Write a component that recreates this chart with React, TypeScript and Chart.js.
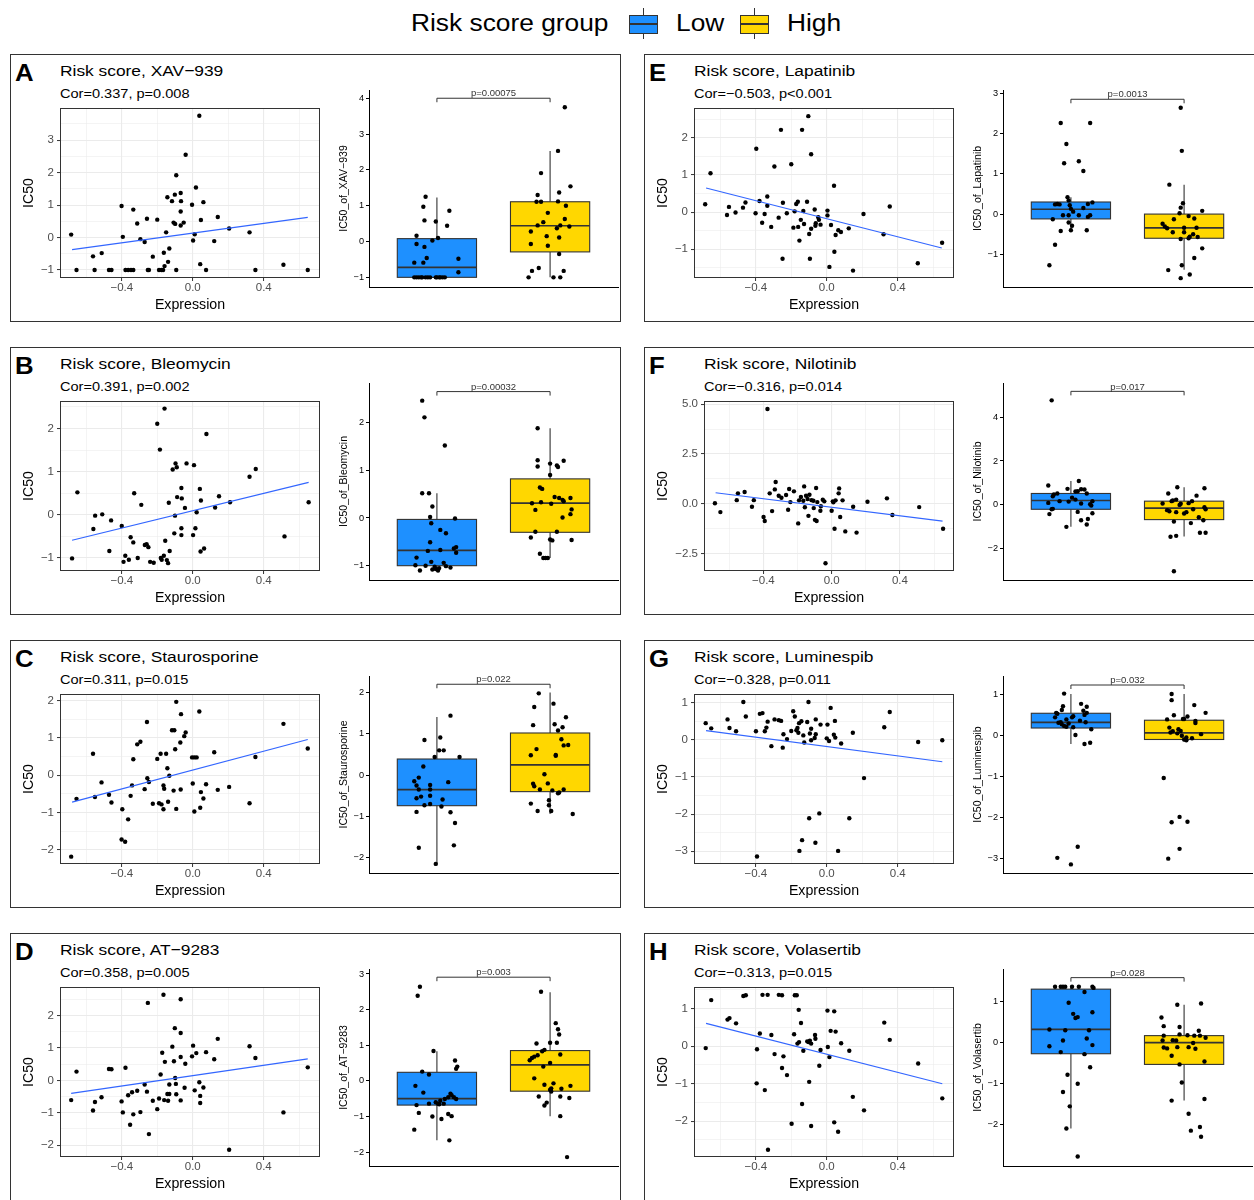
import React, { useEffect, useRef } from "react";
import { Chart, registerables } from "chart.js";

Chart.register(...registerables);

// ---------------- data ----------------
const groups = ["Low", "High"];
const groupColors = ["#1E90FF", "#FFD700"];
const expressionRange = [-0.748, 0.717];
const expressionTicks = [-0.4, 0, 0.4];

// A  XAV-939
const xavScatter = [[-0.685,0.09],[-0.655,-1],[-0.562,-0.58],[-0.553,-1],[-0.513,-0.48],[-0.472,-1],[-0.458,-1],[-0.401,0.97],[-0.394,0.02],[-0.379,-1],[-0.364,-1],[-0.348,-1],[-0.335,-1],[-0.335,0.86],[-0.313,0.43],[-0.295,-0.05],[-0.271,-0.14],[-0.258,0.58],[-0.253,-1],[-0.247,-1],[-0.225,-0.59],[-0.2,0.55],[-0.19,-1],[-0.176,-1],[-0.167,-1],[-0.163,-0.47],[-0.159,-0.88],[-0.15,0.16],[-0.143,1.24],[-0.139,-0.75],[-0.132,-0.34],[-0.117,1.12],[-0.108,0.46],[-0.101,1.32],[-0.099,0.42],[-0.093,1.92],[-0.093,-1],[-0.068,1.37],[-0.066,1.12],[-0.068,0.8],[-0.068,0.37],[-0.051,0.46],[-0.04,2.55],[-0.004,1.01],[0.002,-0.09],[0.011,0.1],[0.018,1.54],[0.037,3.75],[0.042,-0.82],[0.046,0.54],[0.06,1.09],[0.075,-1],[0.121,-0.11],[0.141,0.63],[0.205,0.28],[0.32,0.16],[0.353,-1],[0.511,-0.84],[0.648,-1]];
const xavFit = [[-0.68,-0.37],[0.648,0.62]];
const xavLow = [[-0.1,1.25],[-0.12,0.97],[0.11,0.86],[-0.11,0.59],[-0.01,0.56],[0.09,0.44],[-0.18,0.16],[0.01,0.1],[-0.04,0.03],[-0.18,-0.07],[-0.11,-0.15],[0.19,-0.48],[-0.09,-0.46],[-0.2,-0.59],[-0.12,-0.59],[0.19,-0.86],[-0.2,-1],[-0.18,-1],[-0.13,-1],[-0.1,-1],[-0.06,-1],[-0.01,-1],[0.03,-1],[0.07,-1],[-0.16,-1],[-0.08,-1],[0,-1],[0.05,-1],[-0.14,-1],[0.02,-1]];
const xavHigh = [[0.13,3.75],[0.07,2.53],[-0.08,1.91],[0.18,1.54],[-0.11,1.3],[0.08,1.37],[-0.12,1.11],[-0.08,1.11],[0.07,1.12],[0.14,1],[-0.02,0.8],[0.13,0.63],[-0.06,0.54],[-0.11,0.45],[0.09,0.45],[0.17,0.42],[0.06,0.37],[-0.17,0.28],[-0.03,0.15],[0.08,0.11],[-0.17,-0.07],[-0.02,-0.12],[0.08,-0.35],[-0.1,-0.74],[-0.16,-0.82],[0.12,-0.82],[-0.19,-1],[0.03,-1],[0.09,-1]];
const xavLowBox = [-1, -1, -0.72, 0.08, 1.23]; // whisker low, q1, median, q3, whisker high
const xavHighBox = [-1, -0.29, 0.44, 1.11, 2.53];
const xavScatterRange = [-1.247, 3.99];
const xavScatterTicks = [-1, 0, 1, 2, 3];
const xavBoxRange = [-1.27, 4.23];
const xavBoxTicks = [-1, 0, 1, 2, 3, 4];

// B  Bleomycin
const bleScatter = [[-0.68,-1.01],[-0.65,0.52],[-0.56,-0.33],[-0.55,-0.02],[-0.51,0.01],[-0.46,-0.13],[-0.47,-0.84],[-0.4,-0.26],[-0.39,-1.09],[-0.38,-0.95],[-0.36,-1.04],[-0.35,-0.52],[-0.335,-0.64],[-0.33,0.5],[-0.31,-1],[-0.29,0.23],[-0.27,-0.7],[-0.26,-0.68],[-0.25,-0.75],[-0.24,-1.09],[-0.22,-1.11],[-0.2,2.11],[-0.185,1.51],[-0.18,-1],[-0.175,-1.04],[-0.163,-0.95],[-0.159,2.46],[-0.155,-0.6],[-0.146,-1.05],[-0.139,-1.12],[-0.135,0.28],[-0.13,-0.84],[-0.113,1.05],[-0.104,-0.43],[-0.1,-0.02],[-0.097,1.19],[-0.09,1.1],[-0.088,0.41],[-0.064,-0.31],[-0.064,-0.47],[-0.064,0.62],[-0.062,0.38],[-0.044,0.16],[-0.035,1.19],[0.002,-0.47],[0.007,1.15],[0.015,-0.31],[0.022,0.06],[0.04,0.6],[0.046,0.33],[0.044,-0.85],[0.064,-0.78],[0.077,1.87],[0.126,0.17],[0.148,0.43],[0.21,0.29],[0.32,0.88],[0.355,1.06],[0.517,-0.5],[0.653,0.29]];
const bleFit = [[-0.68,-0.59],[0.653,0.75]];
const bleLow = [[-0.13,2.46],[-0.11,2.11],[0.07,1.52],[-0.13,0.52],[-0.07,0.52],[-0.04,0.24],[-0.06,0.02],[0.16,-0.01],[-0.05,-0.11],[0.03,-0.25],[0.08,-0.32],[-0.06,-0.51],[0.17,-0.61],[0.15,-0.64],[-0.08,-0.69],[0.03,-0.67],[0.17,-0.73],[-0.18,-0.83],[-0.05,-0.92],[0.06,-0.94],[-0.19,-0.99],[-0.1,-1],[-0.02,-1.02],[0.08,-1.01],[0.12,-1.04],[-0.15,-1.1],[-0.04,-1.08],[0.01,-1.1],[0.02,-1.05],[-0.01,-1.07]];
const bleHigh = [[-0.11,1.88],[-0.11,1.21],[-0.11,1.08],[0,1.14],[0.06,1.1],[0.07,1.07],[0.12,1.2],[0,0.9],[-0.09,0.64],[-0.07,0.61],[0.04,0.44],[0.08,0.42],[0.18,0.42],[0.12,0.35],[0.11,0.38],[-0.16,0.31],[-0.08,0.33],[0.01,0.3],[-0.13,0.17],[0.19,0.18],[0.18,0.08],[0.11,0.01],[-0.13,-0.29],[0.06,-0.29],[-0.17,-0.41],[0.02,-0.47],[0,-0.45],[0.19,-0.46],[-0.09,-0.75],[-0.06,-0.84],[-0.04,-0.84],[-0.02,-0.84]];
const bleLowBox = [-1.12, -1, -0.68, -0.03, 0.52];
const bleHighBox = [-0.84, -0.3, 0.31, 0.82, 1.88];
const bleScatterRange = [-1.302, 2.636];
const bleScatterTicks = [-1, 0, 1, 2];
const bleBoxRange = [-1.3, 2.83];
const bleBoxTicks = [-1, 0, 1, 2];

// C  Staurosporine
const stauScatter = [[-0.685,-2.18],[-0.655,-0.63],[-0.562,0.58],[-0.551,-0.58],[-0.514,-0.19],[-0.472,-0.52],[-0.458,-0.73],[-0.397,-0.91],[-0.401,-1.72],[-0.381,-1.78],[-0.364,-1.18],[-0.35,-0.55],[-0.342,-0.27],[-0.335,0.43],[-0.313,0.83],[-0.295,0.9],[-0.271,-0.37],[-0.258,1.43],[-0.256,-0.08],[-0.247,-0.18],[-0.225,-0.76],[-0.2,0.44],[-0.19,-0.75],[-0.181,0.58],[-0.176,-0.78],[-0.165,-0.27],[-0.161,-0.36],[-0.165,-0.91],[-0.15,0.58],[-0.143,0.19],[-0.139,-0.71],[-0.132,-0.01],[-0.117,1.21],[-0.108,-0.41],[-0.104,1.21],[-0.099,0.7],[-0.093,1.97],[-0.093,-0.9],[-0.07,0.88],[-0.066,1.64],[-0.068,-0.38],[-0.048,1.05],[-0.04,1.15],[-0.004,0.48],[0,-0.22],[0.009,0.48],[0.009,-0.97],[0.022,0.48],[0.037,1.71],[0.042,-0.87],[0.046,-0.45],[0.06,-0.62],[0.075,-0.24],[0.121,0.62],[0.141,-0.39],[0.205,-0.31],[0.32,-0.75],[0.353,0.49],[0.511,1.38],[0.648,0.72]];
const stauFit = [[-0.68,-0.72],[0.648,0.96]];
const stauLow = [[0.12,1.44],[-0.11,0.85],[0.03,0.91],[0.02,0.6],[0.06,0.6],[-0.02,0.44],[0.2,0.44],[-0.12,0.21],[-0.16,-0.06],[-0.2,-0.15],[0.1,-0.17],[-0.18,-0.25],[-0.06,-0.24],[-0.06,-0.35],[-0.16,-0.35],[-0.14,-0.52],[-0.18,-0.56],[-0.06,-0.5],[0.05,-0.59],[-0.11,-0.73],[-0.06,-0.7],[0.04,-0.76],[-0.18,-0.89],[0.12,-0.9],[0.16,-1.16],[-0.16,-1.76],[0.15,-1.7],[-0.01,-2.15]];
const stauHigh = [[-0.1,1.98],[-0.14,1.65],[0.03,1.73],[0.14,1.4],[-0.15,1.21],[0.04,1.23],[0.11,1.16],[0.07,1.08],[0.1,0.87],[0.12,0.72],[0.16,0.73],[-0.12,0.63],[0.05,0.49],[0.05,0.47],[-0.17,0.48],[-0.05,0.02],[-0.15,-0.21],[-0.02,-0.2],[-0.14,-0.27],[-0.09,-0.35],[0.02,-0.37],[0.12,-0.35],[0.08,-0.42],[0.07,-0.44],[-0.17,-0.69],[-0.01,-0.61],[-0.01,-0.73],[-0.11,-0.87],[0.01,-0.87],[0.2,-0.94]];
const stauLowBox = [-2.14, -0.74, -0.35, 0.39, 1.41];
const stauHighBox = [-0.94, -0.4, 0.25, 1.02, 2.0];
const stauScatterRange = [-2.377, 2.18];
const stauScatterTicks = [-2, -1, 0, 1, 2];
const stauBoxRange = [-2.37, 2.4];
const stauBoxTicks = [-2, -1, 0, 1, 2];

// D  AT-9283
const atScatter = [[-0.685,-0.61],[-0.655,0.27],[-0.562,-0.93],[-0.551,-0.67],[-0.514,-0.52],[-0.472,0.35],[-0.458,0.34],[-0.401,-0.65],[-0.394,-0.99],[-0.379,0.39],[-0.364,-0.46],[-0.353,-1.37],[-0.342,-0.37],[-0.335,-1.05],[-0.313,-0.32],[-0.295,-0.98],[-0.271,-0.13],[-0.258,-0.35],[-0.253,2.39],[-0.247,-1.66],[-0.225,-0.63],[-0.2,-0.89],[-0.19,-0.56],[-0.181,0.18],[-0.172,0.85],[-0.165,2.64],[-0.161,-0.61],[-0.157,0.57],[-0.143,-0.42],[-0.139,-0.63],[-0.132,-0.13],[-0.132,-0.42],[-0.115,1.04],[-0.106,0.59],[-0.101,1.61],[-0.099,0.07],[-0.095,-0.11],[-0.093,-0.43],[-0.068,2.5],[-0.068,1.46],[-0.068,0.72],[-0.068,-0.62],[-0.042,0.51],[-0.046,-0.23],[-0.004,0.74],[0.002,1.07],[0.011,-0.31],[0.02,0.84],[0.037,-0.06],[0.042,-0.48],[0.042,-0.7],[0.06,-0.22],[0.075,0.87],[0.121,0.65],[0.141,1.28],[0.205,-2.14],[0.32,1.05],[0.353,0.69],[0.511,-0.99],[0.648,0.4]];
const atFit = [[-0.685,-0.4],[0.648,0.66]];
const atLow = [[-0.15,2.64],[-0.17,2.39],[-0.03,0.84],[0.16,0.57],[0.18,0.4],[0.17,0.34],[-0.13,0.26],[-0.07,0.18],[-0.19,-0.14],[-0.12,-0.33],[0.12,-0.36],[0.13,-0.4],[0.15,-0.46],[0.1,-0.46],[0.17,-0.51],[-0.07,-0.64],[-0.18,-0.68],[0.01,-0.64],[0.02,-0.66],[0.03,-0.56],[0.06,-0.64],[-0.16,-0.9],[-0.04,-1],[0.1,-0.93],[0.13,-0.99],[0.04,-1.07],[-0.2,-1.37],[0.11,-1.67],[-0.01,-0.6],[0.07,-0.51]];
const atHigh = [[-0.08,2.5],[0.05,1.62],[0.07,1.45],[0.08,1.3],[-0.12,1.05],[0,1.07],[0.06,1.07],[-0.05,0.87],[-0.07,0.83],[-0.11,0.72],[-0.14,0.68],[0.09,0.74],[-0.18,0.58],[-0.16,0.64],[0,0.5],[-0.06,0.4],[-0.14,0.07],[0.03,-0.07],[-0.05,-0.11],[0.18,-0.14],[0.01,-0.21],[0,-0.25],[0.1,-0.22],[0.01,-0.3],[-0.1,-0.44],[0.09,-0.44],[0.17,-0.48],[-0.03,-0.61],[-0.05,-0.69],[0.09,-0.99],[0.15,-2.14]];
const atLowBox = [-1.67, -0.68, -0.5, 0.24, 0.83];
const atHighBox = [-0.99, -0.29, 0.45, 0.85, 2.49];
const atScatterRange = [-2.366, 2.88];
const atScatterTicks = [-2, -1, 0, 1, 2];
const atBoxRange = [-2.39, 3.14];
const atBoxTicks = [-2, -1, 0, 1, 2, 3];

// E  Lapatinib
const lapScatter = [[-0.685,0.21],[-0.655,1.05],[-0.562,-0.08],[-0.551,0.14],[-0.514,-0.01],[-0.472,0.12],[-0.458,0.26],[-0.397,1.71],[-0.401,-0.03],[-0.379,0.3],[-0.364,-0.29],[-0.35,-0.05],[-0.335,0.42],[-0.335,0.17],[-0.313,-0.4],[-0.295,1.23],[-0.271,-0.15],[-0.258,2.22],[-0.247,0.25],[-0.249,-1.26],[-0.225,-0.03],[-0.2,1.29],[-0.188,-0.42],[-0.181,0.02],[-0.172,0.22],[-0.163,0.28],[-0.161,-0.4],[-0.154,-0.77],[-0.146,-0.21],[-0.139,2.22],[-0.132,0.03],[-0.128,-0.32],[-0.111,0.28],[-0.104,2.59],[-0.099,-0.59],[-0.095,-1.26],[-0.088,1.56],[-0.088,-0.45],[-0.068,0.07],[-0.064,-0.37],[-0.062,-0.3],[-0.048,-0.14],[-0.044,-0.21],[-0.035,-0.34],[0.004,0.04],[0.004,-0.09],[0.015,-1.48],[0.024,-0.35],[0.041,0.71],[0.043,-1.07],[0.05,-0.62],[0.065,-0.49],[0.08,-0.54],[0.124,-0.44],[0.148,-1.58],[0.207,-0.05],[0.32,-0.6],[0.355,0.15],[0.513,-1.38],[0.65,-0.83]];
const lapFit = [[-0.68,0.65],[0.648,-0.97]];
const lapLow = [[-0.09,2.26],[0.17,2.26],[-0.04,1.74],[-0.06,1.26],[0.07,1.31],[0.11,1.07],[-0.03,0.42],[-0.02,0.34],[-0.12,0.25],[-0.1,0.24],[0.19,0.29],[0.15,0.25],[0,0.13],[0.11,0.15],[-0.01,0.22],[-0.07,-0.03],[-0.02,-0.03],[0.07,-0.03],[0.17,-0.03],[0.15,-0.07],[-0.16,-0.13],[-0.02,-0.21],[0.01,-0.29],[0,-0.4],[0.14,-0.4],[-0.09,-0.42],[-0.14,-0.76],[-0.19,-1.27],[0.02,0.06],[-0.14,0.24]];
const lapHigh = [[-0.03,2.64],[-0.02,1.57],[-0.13,0.73],[-0.01,0.27],[-0.03,0.16],[0.16,0.08],[-0.04,0.02],[0.04,-0.05],[0.09,-0.11],[-0.09,-0.13],[-0.19,-0.24],[-0.15,-0.35],[-0.17,-0.31],[0,-0.34],[0.11,-0.34],[-0.1,-0.45],[0,-0.45],[0.08,-0.5],[0.05,-0.56],[0.12,-0.57],[-0.03,-0.62],[0.04,-0.6],[0.16,-0.85],[0.09,-1.09],[-0.02,-1.27],[-0.14,-1.39],[0.05,-1.5],[-0.03,-1.59]];
const lapLowBox = [-0.42, -0.12, 0.12, 0.3, 0.42];
const lapHighBox = [-1.38, -0.6, -0.34, 0.0, 0.73];
const lapScatterRange = [-1.78, 2.81];
const lapScatterTicks = [-1, 0, 1, 2];
const lapBoxRange = [-1.81, 3.08];
const lapBoxTicks = [-1, 0, 1, 2, 3];

// F  Nilotinib
const nilScatter = [[-0.684,0.02],[-0.652,-0.42],[-0.556,0.18],[-0.549,0.52],[-0.51,0.59],[-0.467,-0.15],[-0.456,0.18],[-0.399,-0.67],[-0.392,-0.87],[-0.376,4.76],[-0.363,0.52],[-0.349,-0.37],[-0.333,0.72],[-0.328,1.09],[-0.31,0.4],[-0.294,0.3],[-0.267,0.44],[-0.255,-0.3],[-0.249,0.74],[-0.242,0.08],[-0.221,0.62],[-0.196,-0.99],[-0.191,0.17],[-0.18,0.34],[-0.166,0.15],[-0.161,0.87],[-0.157,-0.18],[-0.15,0.4],[-0.141,0.24],[-0.136,-0.61],[-0.13,0.45],[-0.118,0.18],[-0.107,0.15],[-0.105,-0.22],[-0.098,-0.81],[-0.091,0.79],[-0.088,-0.87],[-0.084,0.08],[-0.066,-0.35],[-0.063,-0.13],[-0.052,0.2],[-0.043,0.12],[-0.036,-2.99],[0,-0.35],[0.007,0.12],[0.01,0.07],[0.017,-1.26],[0.023,0.17],[0.041,0.52],[0.044,0.77],[0.05,-0.67],[0.064,0.17],[0.08,-1.39],[0.126,-0.15],[0.146,-1.45],[0.21,0.1],[0.324,0.27],[0.356,-0.57],[0.513,-0.17],[0.653,-1.26]];
const nilFit = [[-0.68,0.55],[0.65,-0.87]];
const nilLow = [[-0.17,4.76],[0.07,1.09],[-0.2,0.88],[-0.03,0.73],[0.09,0.71],[0.12,0.7],[-0.12,0.52],[0.04,0.61],[0.06,0.62],[0.14,0.52],[-0.16,0.39],[-0.15,0.47],[0.01,0.33],[0.04,0.24],[-0.1,0.17],[-0.2,0.09],[0.19,0.17],[-0.02,0.15],[0.09,0.06],[0.17,0.03],[0.18,-0.03],[-0.16,-0.18],[-0.17,-0.2],[0.06,-0.32],[0.19,-0.38],[-0.19,-0.42],[0.15,-0.64],[0.09,-0.7],[0.14,-0.89],[-0.04,-1]];
const nilHigh = [[-0.06,0.8],[0.18,0.76],[-0.14,0.52],[0.11,0.42],[-0.07,0.24],[-0.11,0.17],[0.07,0.17],[-0.1,0.2],[-0.19,0.06],[-0.03,0.05],[0.18,-0.11],[0.19,-0.2],[-0.15,-0.24],[-0.13,-0.29],[-0.07,-0.33],[0.02,-0.33],[0,-0.39],[0.13,-0.56],[0.17,-0.7],[-0.09,-0.76],[0.06,-0.83],[0.14,-1.27],[0.19,-1.27],[-0.12,-1.45],[-0.07,-1.41],[-0.09,-3.02],[-0.04,0],[0.04,0.08],[0.08,-0.2]];
const nilLowBox = [-1.0, -0.2, 0.2, 0.52, 1.09];
const nilHighBox = [-1.44, -0.67, -0.15, 0.17, 0.8];
const nilScatterRange = [-3.38, 5.16];
const nilScatterTicks = [-2.5, 0, 2.5, 5];
const nilBoxRange = [-3.42, 5.55];
const nilBoxTicks = [-2, 0, 2, 4];

// G  Luminespib
const lumScatter = [[-0.682,0.45],[-0.651,0.31],[-0.559,0.55],[-0.548,0.32],[-0.511,0.23],[-0.47,1.02],[-0.456,0.63],[-0.399,0.23],[-0.393,-3.14],[-0.377,0.7],[-0.362,0.72],[-0.349,0.23],[-0.34,0.33],[-0.333,0.49],[-0.312,-0.17],[-0.294,0.55],[-0.27,0.53],[-0.257,0.51],[-0.248,-0.21],[-0.244,0.15],[-0.224,0.02],[-0.2,0.24],[-0.189,0.77],[-0.18,0.63],[-0.171,0.26],[-0.165,0.32],[-0.16,0.19],[-0.156,0.45],[-0.154,-2.99],[-0.143,0.5],[-0.139,-2.7],[-0.132,0.12],[-0.127,-0.07],[-0.11,0.48],[-0.103,1.02],[-0.099,-2.11],[-0.095,0.17],[-0.088,0.3],[-0.088,-0.01],[-0.068,0.05],[-0.064,-2.77],[-0.062,0.55],[-0.062,0.15],[-0.042,-1.98],[-0.035,0.41],[0.004,0.41],[0,0.04],[0.013,-0.03],[0.022,0.86],[0.04,0.14],[0.046,0.51],[0.048,0.06],[0.064,-2.99],[0.081,-0.1],[0.127,-2.11],[0.147,0.19],[0.21,-1.03],[0.324,0.34],[0.355,0.75],[0.515,-0.06],[0.651,-0.01]];
const lumFit = [[-0.68,0.25],[0.651,-0.59]];
const lumLow = [[-0.06,1.03],[-0.07,0.72],[0.09,0.78],[-0.08,0.63],[0.14,0.71],[0.11,0.61],[-0.13,0.56],[-0.12,0.54],[0.14,0.56],[0.12,0.51],[-0.14,0.45],[0.02,0.48],[0.01,0.45],[-0.09,0.33],[0.13,0.33],[-0.11,0.32],[-0.02,0.3],[-0.06,0.24],[-0.04,0.22],[0.02,0.21],[0.18,0.16],[0.04,0.02],[0.17,-0.17],[0.12,-0.2],[0.06,-2.71],[-0.12,-2.98],[0,-3.14],[-0.04,0.4],[0.08,0.37],[-0.08,0.28]];
const lumHigh = [[-0.11,1.02],[-0.11,0.87],[0.09,0.75],[0.19,0.56],[-0.09,0.5],[0.03,0.47],[0,0.41],[-0.15,0.4],[-0.01,0.41],[0.1,0.36],[0.1,0.31],[-0.13,0.2],[-0.05,0.16],[-0.1,0.11],[-0.03,0.12],[0.15,0.04],[-0.12,0.08],[-0.06,0.06],[-0.02,0],[0.02,-0.04],[0.07,-0.06],[0.02,-0.11],[0,-0.09],[-0.18,-1.03],[-0.04,-1.98],[-0.11,-2.11],[0.03,-2.1],[-0.04,-2.76],[-0.14,-3]];
const lumLowBox = [-0.2, 0.19, 0.33, 0.55, 1.02];
const lumHighBox = [-0.14, -0.09, 0.07, 0.38, 1.02];
const lumScatterRange = [-3.342, 1.234];
const lumScatterTicks = [-3, -2, -1, 0, 1];
const lumBoxRange = [-3.35, 1.46];
const lumBoxTicks = [-3, -2, -1, 0, 1];

// H  Volasertib
const volScatter = [[-0.682,-0.05],[-0.651,1.23],[-0.559,0.71],[-0.548,0.75],[-0.511,0.61],[-0.47,1.34],[-0.456,1.36],[-0.395,-0.99],[-0.393,-0.08],[-0.377,0.34],[-0.362,1.37],[-0.349,-1.17],[-0.333,1.37],[-0.331,-2.76],[-0.312,0.3],[-0.294,-0.21],[-0.27,1.37],[-0.252,1.36],[-0.252,-0.58],[-0.244,-0.27],[-0.224,-0.77],[-0.198,-2.07],[-0.184,0.32],[-0.18,1.36],[-0.169,1.36],[-0.165,0.07],[-0.158,0.97],[-0.156,0.11],[-0.145,0.62],[-0.139,-1.54],[-0.132,-0.12],[-0.11,0.13],[-0.103,0.11],[-0.099,-0.95],[-0.095,0.15],[-0.088,-2.13],[-0.088,0.07],[-0.066,0.3],[-0.064,0.2],[-0.042,-0.52],[-0.035,-0.1],[0.004,0.95],[0.006,-0.02],[0.015,-0.29],[0.022,0.41],[0.042,0.93],[0.042,-2.03],[0.05,0.39],[0.064,-2.28],[0.081,0.08],[0.127,-0.12],[0.147,-1.35],[0.21,-1.71],[0.324,0.63],[0.355,0.17],[0.515,-0.46],[0.651,-1.39]];
const volFit = [[-0.68,0.61],[0.651,-1.0]];
const volLow = [[-0.14,1.36],[-0.09,1.36],[-0.07,1.36],[-0.05,1.36],[0.01,1.36],[0.07,1.36],[0.19,1.36],[0.2,1.33],[0.12,1.23],[-0.02,0.97],[0.19,0.74],[0.02,0.7],[0.04,0.6],[0.06,0.62],[-0.19,0.32],[-0.05,0.3],[0.16,0.3],[0.14,0.1],[-0.07,0.05],[0.19,-0.06],[-0.19,-0.09],[-0.09,-0.23],[0.12,-0.28],[0.17,-0.6],[-0.03,-0.78],[0.06,-1],[-0.07,-1.2],[-0.01,-1.55],[-0.04,-2.09],[0.06,-2.77]];
const volHigh = [[-0.06,0.92],[0.15,0.95],[-0.2,0.61],[-0.18,0.4],[-0.04,0.38],[0.13,0.29],[-0.18,0.17],[-0.04,0.2],[0.03,0.18],[0.09,0.17],[0.14,0.17],[0.19,0.12],[-0.19,0.05],[-0.1,0.06],[-0.07,0.05],[0.08,-0.01],[-0.18,-0.12],[-0.15,-0.14],[-0.06,-0.11],[0.04,-0.11],[0.1,-0.15],[-0.11,-0.32],[0.18,-0.46],[-0.04,-0.53],[-0.02,-0.97],[-0.11,-1.41],[0.18,-1.37],[0.04,-1.73],[0.14,-2.05],[0.06,-2.14],[0.15,-2.29]];
const volLowBox = [-2.09, -0.27, 0.32, 1.3, 1.36];
const volHighBox = [-1.41, -0.53, 0.0, 0.17, 0.92];
const volScatterRange = [-2.955, 1.58];
const volScatterTicks = [-2, -1, 0, 1];
const volBoxRange = [-3.0, 1.79];
const volBoxTicks = [-2, -1, 0, 1];

const drugs = ["XAV−939", "Bleomycin", "Staurosporine", "AT−9283", "Lapatinib", "Nilotinib", "Luminespib", "Volasertib"];
const letters = ["A", "B", "C", "D", "E", "F", "G", "H"];
const corTexts = ["Cor=0.337, p=0.008", "Cor=0.391, p=0.002", "Cor=0.311, p=0.015", "Cor=0.358, p=0.005", "Cor=−0.503, p<0.001", "Cor=−0.316, p=0.014", "Cor=−0.328, p=0.011", "Cor=−0.313, p=0.015"];
const groupPvals = ["p=0.00075", "p=0.00032", "p=0.022", "p=0.003", "p=0.0013", "p=0.017", "p=0.032", "p=0.028"];
const bracketLevels = [4.0, 2.65, 2.2, 2.91, 2.85, 5.17, 1.24, 1.58];
const scatterTickDecimals = [0, 0, 0, 0, 0, 1, 0, 0];

// ---------------- layout ----------------
const TS = 1.12; // horizontal stretch of the reference's HTML-like text
const FONT = "'Liberation Sans', Arial, Helvetica, sans-serif";
const colLeft = [10, 644];
const rowTop = [55, 348, 641, 934];

const panels = [
  { scatter: xavScatter, fit: xavFit, low: xavLow, high: xavHigh, lowBox: xavLowBox, highBox: xavHighBox, sRange: xavScatterRange, sTicks: xavScatterTicks, bRange: xavBoxRange, bTicks: xavBoxTicks },
  { scatter: bleScatter, fit: bleFit, low: bleLow, high: bleHigh, lowBox: bleLowBox, highBox: bleHighBox, sRange: bleScatterRange, sTicks: bleScatterTicks, bRange: bleBoxRange, bTicks: bleBoxTicks },
  { scatter: stauScatter, fit: stauFit, low: stauLow, high: stauHigh, lowBox: stauLowBox, highBox: stauHighBox, sRange: stauScatterRange, sTicks: stauScatterTicks, bRange: stauBoxRange, bTicks: stauBoxTicks },
  { scatter: atScatter, fit: atFit, low: atLow, high: atHigh, lowBox: atLowBox, highBox: atHighBox, sRange: atScatterRange, sTicks: atScatterTicks, bRange: atBoxRange, bTicks: atBoxTicks },
  { scatter: lapScatter, fit: lapFit, low: lapLow, high: lapHigh, lowBox: lapLowBox, highBox: lapHighBox, sRange: lapScatterRange, sTicks: lapScatterTicks, bRange: lapBoxRange, bTicks: lapBoxTicks },
  { scatter: nilScatter, fit: nilFit, low: nilLow, high: nilHigh, lowBox: nilLowBox, highBox: nilHighBox, sRange: nilScatterRange, sTicks: nilScatterTicks, bRange: nilBoxRange, bTicks: nilBoxTicks },
  { scatter: lumScatter, fit: lumFit, low: lumLow, high: lumHigh, lowBox: lumLowBox, highBox: lumHighBox, sRange: lumScatterRange, sTicks: lumScatterTicks, bRange: lumBoxRange, bTicks: lumBoxTicks },
  { scatter: volScatter, fit: volFit, low: volLow, high: volHigh, lowBox: volLowBox, highBox: volHighBox, sRange: volScatterRange, sTicks: volScatterTicks, bRange: volBoxRange, bTicks: volBoxTicks },
].map((d, i) => ({
  ...d,
  idx: i,
  letter: letters[i],
  drug: drugs[i],
  cor: corTexts[i],
  pval: groupPvals[i],
  bracket: bracketLevels[i],
  sDec: scatterTickDecimals[i],
  col: i < 4 ? 0 : 1,
  row: i % 4,
  yAxisW: i === 5 ? 60 : 50,
}));

const fmt = (v: number, dec: number) => (v < -1e-9 ? "\u2212" : "") + Math.abs(v).toFixed(dec);
const rnd = (v: number) => Math.round(v * 1e6) / 1e6;
function withMinors(majors: number[], lo: number, hi: number) {
  const step = majors[1] - majors[0];
  const set = new Set<number>();
  majors.forEach((m) => {
    set.add(rnd(m));
    set.add(rnd(m - step / 2));
    set.add(rnd(m + step / 2));
  });
  return Array.from(set).filter((v) => v >= lo && v <= hi).sort((a, b) => a - b);
}
const isMaj = (arr: number[], v: number) => arr.some((m) => Math.abs(m - v) < 1e-6);

const POINT_R = 2.2;

// ---------------- charts ----------------
function ScatterChart({ p }: { p: any }) {
  const ref = useRef<HTMLCanvasElement>(null);
  const W = 322;
  const H = 227;
  useEffect(() => {
    const yAll = withMinors(p.sTicks, p.sRange[0], p.sRange[1]);
    const xAll = withMinors(expressionTicks, expressionRange[0], expressionRange[1]);
    const border = {
      id: "panelBorder",
      afterDraw(chart: any) {
        const { ctx, chartArea: a } = chart;
        ctx.save();
        ctx.strokeStyle = "#333333";
        ctx.lineWidth = 1;
        ctx.strokeRect(Math.round(a.left) + 0.5, Math.round(a.top) + 0.5, Math.round(a.right - a.left) - 1, Math.round(a.bottom - a.top) - 1);
        ctx.restore();
      },
    };
    const grid = (majors: number[], tl: number) => ({
      color: "#EBEBEB",
      lineWidth: (c: any) => (c.tick && isMaj(majors, c.tick.value) ? 1.1 : 0.55),
      tickColor: (c: any) => (c.tick && isMaj(majors, c.tick.value) ? "#333333" : "rgba(0,0,0,0)"),
      tickWidth: 1,
      tickLength: tl,
      drawTicks: true,
      drawOnChartArea: true,
    });
    const chart = new Chart(ref.current as HTMLCanvasElement, {
      type: "scatter",
      data: {
        datasets: [
          {
            data: p.fit.map((d: number[]) => ({ x: d[0], y: d[1] })),
            showLine: true,
            borderColor: "#3366FF",
            borderWidth: 1.2,
            pointRadius: 0,
            fill: false,
          },
          {
            data: p.scatter.map((d: number[]) => ({ x: d[0], y: d[1] })),
            pointRadius: POINT_R,
            pointBackgroundColor: "#000000",
            pointBorderColor: "#000000",
            pointBorderWidth: 0,
          },
        ],
      } as any,
      options: {
        animation: false,
        responsive: false,
        events: [],
        layout: { padding: { left: 0, top: 10, right: W - 310, bottom: 0 } },
        plugins: { legend: { display: false }, tooltip: { enabled: false } },
        scales: {
          x: {
            type: "linear",
            bounds: "data",
            min: expressionRange[0],
            max: expressionRange[1],
            afterBuildTicks: (ax: any) => {
              ax.ticks = xAll.map((v) => ({ value: v }));
            },
            afterFit: (ax: any) => {
              ax.height = 47;
            },
            ticks: {
              autoSkip: false,
              maxRotation: 0,
              padding: 0,
              color: "#4D4D4D",
              font: { family: FONT, size: 11.5 },
              callback: (v: any) => (isMaj(expressionTicks, Number(v)) ? fmt(Number(v), 1) : ""),
            },
            grid: grid(expressionTicks, 3),
            border: { display: false },
            title: { display: true, text: "Expression", color: "#000000", font: { family: FONT, size: 14.2 }, padding: { top: 0, bottom: 11.5 } },
          },
          y: {
            type: "linear",
            bounds: "data",
            min: p.sRange[0],
            max: p.sRange[1],
            afterBuildTicks: (ax: any) => {
              ax.ticks = yAll.map((v) => ({ value: v }));
            },
            afterFit: (ax: any) => {
              ax.width = p.yAxisW;
            },
            ticks: {
              autoSkip: false,
              padding: 3,
              color: "#4D4D4D",
              font: { family: FONT, size: 11.5 },
              callback: (v: any) => (isMaj(p.sTicks, Number(v)) ? fmt(Number(v), p.sDec) : ""),
            },
            grid: grid(p.sTicks, 3),
            border: { display: false },
            title: { display: true, text: "IC50", color: "#000000", font: { family: FONT, size: 14.2 }, padding: { top: 10.2, bottom: 0 } },
          },
        },
      } as any,
      plugins: [border],
    });
    return () => chart.destroy();
  }, [p]);
  return <canvas ref={ref} width={W} height={H} style={{ position: "absolute", left: 0, top: 43, width: W, height: H }} />;
}

function BoxChart({ p }: { p: any }) {
  const ref = useRef<HTMLCanvasElement>(null);
  const W = 290;
  const H = 237;
  useEffect(() => {
    const boxes = {
      id: "boxes",
      beforeDatasetsDraw(chart: any) {
        const { ctx } = chart;
        const xs = chart.scales.x;
        const ys = chart.scales.y;
        const stats = [p.lowBox, p.highBox];
        stats.forEach((st: number[], gi: number) => {
          const c = gi + 1;
          const [wlo, q1, med, q3, whi] = st;
          const xc = xs.getPixelForValue(c);
          const xl = xs.getPixelForValue(c - 0.35);
          const xr = xs.getPixelForValue(c + 0.35);
          const yq1 = ys.getPixelForValue(q1);
          const yq3 = ys.getPixelForValue(q3);
          ctx.save();
          ctx.strokeStyle = "#333333";
          ctx.lineWidth = 1.1;
          ctx.beginPath();
          ctx.moveTo(xc, yq3);
          ctx.lineTo(xc, ys.getPixelForValue(whi));
          ctx.moveTo(xc, yq1);
          ctx.lineTo(xc, ys.getPixelForValue(wlo));
          ctx.stroke();
          ctx.fillStyle = groupColors[gi];
          ctx.fillRect(xl, yq3, xr - xl, yq1 - yq3);
          ctx.strokeRect(xl, yq3, xr - xl, yq1 - yq3);
          const ym = ys.getPixelForValue(med);
          ctx.lineWidth = 1.7;
          ctx.beginPath();
          ctx.moveTo(xl, ym);
          ctx.lineTo(xr, ym);
          ctx.stroke();
          ctx.restore();
        });
      },
      afterDatasetsDraw(chart: any) {
        const { ctx } = chart;
        const xs = chart.scales.x;
        const ys = chart.scales.y;
        const x1 = xs.getPixelForValue(1);
        const x2 = xs.getPixelForValue(2);
        const y = ys.getPixelForValue(p.bracket);
        ctx.save();
        ctx.strokeStyle = "#333333";
        ctx.lineWidth = 1;
        ctx.beginPath();
        ctx.moveTo(x1, y + 4);
        ctx.lineTo(x1, y);
        ctx.lineTo(x2, y);
        ctx.lineTo(x2, y + 4);
        ctx.stroke();
        ctx.fillStyle = "#333333";
        ctx.font = `9.5px ${FONT}`;
        ctx.textAlign = "center";
        ctx.textBaseline = "alphabetic";
        ctx.fillText(p.pval, (x1 + x2) / 2, y - 1.8);
        ctx.restore();
      },
    };
    const pts = (arr: number[][], c: number) => arr.map((d) => ({ x: c + d[0], y: d[1] }));
    const chart = new Chart(ref.current as HTMLCanvasElement, {
      type: "scatter",
      data: {
        datasets: [
          { label: groups[0], data: pts(p.low, 1), pointRadius: POINT_R, pointBackgroundColor: "#000000", pointBorderColor: "#000000", pointBorderWidth: 0 },
          { label: groups[1], data: pts(p.high, 2), pointRadius: POINT_R, pointBackgroundColor: "#000000", pointBorderColor: "#000000", pointBorderWidth: 0 },
        ],
      } as any,
      options: {
        animation: false,
        responsive: false,
        events: [],
        layout: { padding: { left: 0, top: 10, right: W - (608 - 322), bottom: 0 } },
        plugins: { legend: { display: false }, tooltip: { enabled: false } },
        scales: {
          x: {
            type: "linear",
            bounds: "data",
            min: 0.4,
            max: 2.6,
            afterFit: (ax: any) => {
              ax.height = 30;
            },
            ticks: { display: false },
            grid: { display: false },
            border: { display: true, color: "#000000", width: 1 },
          },
          y: {
            type: "linear",
            bounds: "data",
            min: p.bRange[0],
            max: p.bRange[1],
            afterBuildTicks: (ax: any) => {
              ax.ticks = p.bTicks.map((v: number) => ({ value: v }));
            },
            afterFit: (ax: any) => {
              ax.width = 37;
            },
            ticks: {
              autoSkip: false,
              padding: 2,
              color: "#000000",
              font: { family: FONT, size: 9.2 },
              callback: (v: any) => fmt(Number(v), 0),
            },
            grid: { display: true, drawOnChartArea: false, drawTicks: true, tickLength: 3, tickColor: "#000000", tickWidth: 1, color: "rgba(0,0,0,0)" },
            border: { display: true, color: "#000000", width: 1 },
            title: { display: true, text: `IC50_of_${p.drug}`, color: "#000000", font: { family: FONT, size: 10.5 }, padding: { top: 5.8, bottom: 0 } },
          },
        },
      } as any,
      plugins: [boxes],
    });
    return () => chart.destroy();
  }, [p]);
  return <canvas ref={ref} width={W} height={H} style={{ position: "absolute", left: 322, top: 25, width: W, height: H }} />;
}

const txt = (f: number, bold = false): React.CSSProperties => ({
  position: "absolute",
  fontSize: f,
  lineHeight: `${f * 1.2}px`,
  fontWeight: bold ? 700 : 400,
  whiteSpace: "nowrap",
  color: "#000",
  fontFamily: FONT,
  transform: `scaleX(${TS})`,
  transformOrigin: "0 50%",
});

function Panel({ p }: { p: any }) {
  const tx = p.yAxisW;
  return (
    <div style={{ position: "absolute", left: colLeft[p.col], top: rowTop[p.row], width: 612, height: 268 }}>
      <div style={{ position: "absolute", left: 0, top: -1, width: 611, height: 268, border: "1px solid #333333", boxSizing: "border-box" }} />
      <div style={{ ...txt(23, true), left: 5, top: 4.8 }}>{p.letter}</div>
      <div style={{ ...txt(15.5), left: tx, top: 7.1 }}>Risk score, {p.drug}</div>
      <div style={{ ...txt(13), left: tx, top: 30.6 }}>{p.cor}</div>
      <ScatterChart p={p} />
      <BoxChart p={p} />
    </div>
  );
}

function LegendKey({ x0, color }: { x0: number; color: string }) {
  const w = 29;
  return (
    <>
      <div style={{ position: "absolute", left: x0 + w / 2 - 0.5, top: 8.3, width: 1, height: 31, background: "#333333" }} />
      <div style={{ position: "absolute", left: x0, top: 14.7, width: w, height: 19, background: color, border: "1px solid #333333", boxSizing: "border-box" }} />
      <div style={{ position: "absolute", left: x0, top: 23.4, width: w, height: 1.7, background: "#333333" }} />
    </>
  );
}

export default function App() {
  return (
    <div
      style={{
        position: "fixed",
        left: 0,
        top: 0,
        width: 1254,
        height: 1200,
        overflow: "hidden",
        background: "#ffffff",
      }}
    >
      <div style={{ ...txt(23.5), left: 410.5, top: 8.5 }}>Risk score group</div>
      <LegendKey x0={628.7} color={groupColors[0]} />
      <div style={{ ...txt(23.5), left: 675.5, top: 8.5 }}>{groups[0]}</div>
      <LegendKey x0={740} color={groupColors[1]} />
      <div style={{ ...txt(23.5), left: 786.5, top: 8.5 }}>{groups[1]}</div>
      {panels.map((p) => (
        <Panel key={p.letter} p={p} />
      ))}
    </div>
  );
}
